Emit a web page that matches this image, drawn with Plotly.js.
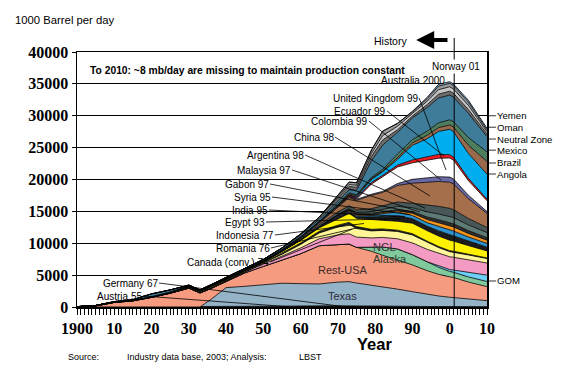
<!DOCTYPE html>
<html>
<head>
<meta charset="utf-8">
<script src="https://cdn.plot.ly/plotly-3.0.1.min.js"></script>
<style>html,body{margin:0;padding:0;background:#fff;}#chart{width:565px;height:382px;}</style>
</head>
<body>
<div id="chart"></div>
<script>
// ---------------- DATA (1000 barrel per day) ----------------
const years = [1900,1905,1910,1915,1920,1925,1930,1933,1936,1940,1945,1950,1955,1960,1965,1970,1973,1975,1979,1982,1986,1990,1994,1997,2000,2001,2005,2010];

const austria    = [0,0,0,0,0,0,0,0,10,20,20,40,70,50,55,55,50,40,35,25,20,20,20,20,20,20,15,10];
const germany    = [10,15,15,15,10,10,5,5,10,20,20,30,60,110,160,150,130,120,100,90,80,80,60,60,60,60,50,40];
const texas      = [0,0,0,0,0,0,0,0,1200,3000,3200,3400,3600,3500,3400,3700,3800,3600,3300,3000,2700,2300,1900,1650,1450,1400,1150,950];
const restUSA    = [0,150,700,950,1500,2150,2950,2200,1700,1000,2100,2900,3600,4700,6000,5900,5900,5600,5300,5000,4600,4200,3700,3400,3200,3150,2700,2200];
const alaska     = [0,0,0,0,0,0,0,0,0,0,0,0,0,0,0,0,0,0,700,1300,1700,1600,1400,1100,850,820,800,800];
const gom        = [0,0,0,0,0,0,0,0,0,0,0,0,0,0,0,0,0,0,0,0,0,0,0,200,300,350,700,1000];
const ngl        = [0,0,0,0,0,0,0,0,0,0,150,350,600,900,1100,1500,1600,1600,1400,1500,1600,1850,1950,2000,2000,2000,1950,1900];
const canada     = [10,10,10,10,10,10,20,20,20,20,20,100,350,550,900,1250,1500,1350,1100,1100,1150,1250,1100,900,800,800,800,700];
const romania    = [30,40,30,30,20,40,110,140,170,120,100,100,210,230,260,280,290,300,250,230,200,200,180,160,150,150,120,100];
const indonesia  = [5,20,30,30,40,60,110,110,130,170,30,130,230,400,550,1000,1400,1300,1500,1350,1400,1650,1650,1650,1650,1600,1350,1100];
const egypt      = [0,0,0,10,20,20,30,30,30,20,30,50,40,60,120,330,250,240,450,650,850,700,700,800,850,830,700,580];
const india      = [0,0,0,0,0,0,0,0,0,0,0,0,0,10,60,140,150,170,200,400,600,500,550,700,750,740,650,600];
const syria      = [0,0,0,0,0,0,0,0,0,0,0,0,0,0,0,80,110,180,150,160,200,350,500,600,650,640,550,500];
const gabon      = [0,0,0,0,0,0,0,0,0,0,0,0,0,20,30,110,150,220,200,160,170,270,400,450,500,490,450,400];
const malaysia   = [0,0,0,0,0,0,0,0,0,0,0,0,0,0,0,20,90,100,250,320,500,600,800,900,1000,990,900,800];
const argentina  = [0,0,5,10,30,50,60,70,80,80,80,70,90,180,280,400,450,400,500,600,700,700,1150,1200,1250,1230,1000,800];
const china      = [0,0,0,0,0,0,0,0,0,0,0,0,20,100,230,750,1300,1500,2100,2100,2600,3150,3500,3900,4100,4050,3100,2200];
const colombia   = [0,0,0,0,0,20,40,30,50,70,60,90,110,150,200,220,190,160,150,150,300,600,700,750,800,780,550,300];
const uk         = [0,0,0,0,0,0,0,0,0,0,0,0,0,0,0,0,0,50,1600,2300,2600,2600,2800,2900,3000,2950,2300,1700];
const ecuador    = [0,0,0,0,0,0,0,0,0,0,0,0,0,0,0,0,200,160,250,210,290,450,550,600,500,480,350,250];
const norway     = [0,0,0,0,0,0,0,0,0,0,0,0,0,0,0,0,30,190,450,550,900,2300,2800,3600,4000,4000,3900,3900];
const angola     = [0,0,0,0,0,0,0,0,0,0,0,0,0,0,0,100,160,160,150,130,280,360,550,600,670,700,1300,2000];
const brazil     = [0,0,0,0,0,0,0,0,0,0,0,0,10,80,90,160,170,170,200,260,570,530,650,750,800,850,1200,1500];
const mexico     = [0,0,60,100,430,320,110,90,110,120,120,200,250,270,320,430,450,700,2600,3800,3400,3400,3700,3900,3900,3850,3800,2400];
const neutralZone= [0,0,0,0,0,0,0,0,0,0,0,0,30,140,360,500,550,450,700,800,400,300,450,600,600,600,600,400];
const oman       = [0,0,0,0,0,0,0,0,0,0,0,0,0,0,0,330,290,340,450,700,550,400,550,700,700,680,650,350];
const australia  = [0,0,0,0,0,0,0,0,0,0,0,0,0,0,0,180,380,400,550,700,450,250,400,550,550,530,500,300];
const yemen      = [0,0,0,0,0,0,0,0,0,0,0,0,0,0,0,0,0,0,0,0,0,100,200,300,250,250,300,250];

const xTickVals = [1900,1910,1920,1930,1940,1950,1960,1970,1980,1990,2000,2010];
const xTickText = ['1900','10','20','30','40','50','60','70','80','90','0','10'];

// ---------------- STYLE ----------------
const series = [
  ['Austria', austria, '#2b2b2b'], ['Germany', germany, '#1a1a1a'],
  ['Texas', texas, '#95b3c7'], ['Rest-USA', restUSA, '#f59b7f'],
  ['Alaska', alaska, '#7fc99c'], ['GOM', gom, '#6dcff6'],
  ['NGL', ngl, '#f39bc3'], ['Canada (conv.)', canada, '#fff69a'],
  ['Romania', romania, '#222222'], ['Indonesia', indonesia, '#fff200'],
  ['Egypt', egypt, '#1c1c1c'], ['India', india, '#2d93cf'],
  ['Syria', syria, '#f7941d'], ['Gabon', gabon, '#303030'],
  ['Malaysia', malaysia, '#5e7a74'], ['Argentina', argentina, '#485757'],
  ['China', china, '#a46f4a'], ['Colombia', colombia, '#6a68a6'],
  ['United Kingdom', uk, '#ffffff'], ['Ecuador', ecuador, '#ed1c24'],
  ['Norway', norway, '#00aeef'], ['Angola', angola, '#9a6a4d'],
  ['Brazil', brazil, '#4d7e5e'], ['Mexico', mexico, '#3f7c9a'],
  ['Neutral Zone', neutralZone, '#6e6e6e'], ['Oman', oman, '#c6c6c6'],
  ['Australia', australia, '#999999'], ['Yemen', yemen, '#86acd1']
];

const traces = series.map(s => ({
  x: years, y: s[1], name: s[0], type: 'scatter', mode: 'lines',
  stackgroup: 'one', line: {color: '#000', width: 0.8, shape: 'linear'},
  fillcolor: s[2], hoverinfo: 'skip', showlegend: false
}));

const sans = 'Liberation Sans, Arial, sans-serif';
const serif = 'Liberation Serif, Times New Roman, serif';
const LBL = 10;

function leftLabel(text, tx, ty, hx, hy) {
  return {text: text, x: hx, y: hy, ax: tx, ay: ty, axref: 'x', ayref: 'y', xref: 'x', yref: 'y',
    showarrow: true, arrowhead: 0, arrowwidth: 0.8, arrowcolor: '#000', xanchor: 'right', yanchor: 'middle',
    font: {family: sans, size: LBL, color: '#000'}, borderpad: 0, standoff: 0, startstandoff: 0};
}
function rightLabel(text, y) {
  return {text: text, x: 2010, y: y, xref: 'x', yref: 'y', ax: 9, ay: 0, showarrow: true, arrowhead: 0,
    arrowwidth: 0.8, arrowcolor: '#000', xanchor: 'left', yanchor: 'middle',
    font: {family: sans, size: 9.6, color: '#000'}, borderpad: 0};
}
function plainLabel(text, x, y, opts) {
  return Object.assign({text: text, x: x, y: y, xref: 'x', yref: 'y', showarrow: false,
    xanchor: 'center', yanchor: 'middle', font: {family: sans, size: LBL, color: '#000'}}, opts || {});
}
function paperText(text, x, y, xanchor, font) {
  return {text: text, xref: 'paper', yref: 'paper', x: x, y: y, xanchor: xanchor, yanchor: 'middle',
    showarrow: false, font: font};
}

const annotations = [
  paperText('1000 Barrel per day', -0.156, 1.125, 'left', {family: sans, size: 11.3, color: '#000'}),
  plainLabel('<b>To 2010: ~8 mb/day are missing to maintain production constant</b>', 1903.0, 37176,
    {xanchor: 'left', font: {family: sans, size: 10.3, color: '#000'}}),
  plainLabel('Norway 01', 2001.7, 37804, {bgcolor: '#fff', borderpad: 1}),
  plainLabel('Australia 2000', 1990.1, 35608),
  {text: 'History', xref: 'x', yref: 'paper', x: 1984.0, y: 1.043, xanchor: 'center', yanchor: 'middle',
   showarrow: false, font: {family: sans, size: 10.5, color: '#000'}},
  {text: '', xref: 'x', yref: 'paper', x: 1991.0, y: 1.047, axref: 'x', ayref: 'paper', ax: 1999.8, ay: 1.047,
   showarrow: true, arrowhead: 2, arrowsize: 0.9, arrowwidth: 4, arrowcolor: '#000'},
  paperText('<b>Year</b>', 0.725, -0.147, 'center', {family: sans, size: 16.5, color: '#000'}),
  paperText('Source:', -0.027, -0.196, 'left', {family: sans, size: 9, color: '#000'}),
  paperText('Industry data base, 2003; Analysis:', 0.117, -0.196, 'left', {family: sans, size: 9, color: '#000'}),
  paperText('LBST', 0.537, -0.196, 'left', {family: sans, size: 9, color: '#000'}),
  // inner region labels
  plainLabel('NGL', 1982.4, 9412, {font: {family: sans, size: 11, color: '#3b2b33'}}),
  plainLabel('Alaska', 1984.0, 7529, {font: {family: sans, size: 11, color: '#2b3b33'}}),
  plainLabel('Rest-USA', 1971.4, 5804, {font: {family: sans, size: 11, color: '#3b2b2b'}}),
  plainLabel('Texas', 1971.1, 1725, {font: {family: sans, size: 11, color: '#2b2b3b'}}),
  // left labels with leader lines
  leftLabel('United Kingdom 99', 1991.8, 32784, 1999.0, 21490),
  leftLabel('Ecuador 99', 1983.2, 30745, 1998.5, 23686),
  leftLabel('Colombia 99', 1978.3, 29176, 1997.7, 19921),
  leftLabel('China 98', 1969.2, 26666, 1994.7, 17411),
  leftLabel('Argentina 98', 1961.2, 23843, 1993.4, 15500),
  leftLabel('Malaysia 97', 1957.7, 21490, 1992.0, 14900),
  leftLabel('Gabon 97', 1951.8, 19294, 1990.7, 14830),
  leftLabel('Syria 95', 1952.3, 17255, 1989.3, 14500),
  leftLabel('India 95', 1951.5, 15215, 1988.0, 14200),
  leftLabel('Egypt 93', 1950.7, 13333, 1986.7, 13850),
  leftLabel('Indonesia 77', 1953.1, 11294, 1977.0, 13100),
  leftLabel('Romania 76', 1952.0, 9255, 1975.4, 12450),
  leftLabel('Canada (conv.) 74', 1951.8, 7059, 1973.8, 12200),
  leftLabel('Germany 67', 1922.0, 3765, 1970.6, 130),
  leftLabel('Austria 55', 1917.7, 1725, 1957.1, 30),
  // right labels
  rightLabel('Yemen', 30000), rightLabel('Oman', 28200), rightLabel('Neutral Zone', 26350),
  rightLabel('Mexico', 24600), rightLabel('Brazil', 22590), rightLabel('Angola', 20860),
  rightLabel('GOM', 4080)
];

const layout = {
  width: 565, height: 382,
  margin: {l: 77, r: 78, t: 52, b: 75, pad: 0},
  paper_bgcolor: '#fff', plot_bgcolor: '#fff',
  showlegend: false,
  xaxis: {
    range: [1900, 2010], tickmode: 'array', tickvals: xTickVals, ticktext: xTickText,
    ticks: 'outside', ticklen: 6, tickwidth: 1, tickcolor: '#000',
    minor: {dtick: 1, tick0: 1900, ticks: 'outside', ticklen: 6, tickwidth: 1, tickcolor: '#000', showgrid: false},
    showline: true, linecolor: '#000', linewidth: 1.5, mirror: true, showgrid: false, zeroline: false,
    tickfont: {family: serif, size: 16, color: '#000', weight: 'bold'}, fixedrange: true
  },
  yaxis: {
    range: [0, 40000], dtick: 5000, tick0: 0, tickformat: 'd',
    ticks: 'outside', ticklen: 4, tickcolor: '#000',
    showgrid: true, gridcolor: '#000', gridwidth: 1,
    showline: true, linecolor: '#000', linewidth: 1.5, mirror: true, zeroline: false,
    tickfont: {family: serif, size: 16, color: '#000', weight: 'bold'}, fixedrange: true
  },
  shapes: [
    {type: 'line', xref: 'x', yref: 'paper', x0: 2001.2, x1: 2001.2, y0: 0, y1: 1.055, line: {color: '#000', width: 1}}
  ],
  annotations: annotations
};

Plotly.newPlot('chart', traces, layout, {staticPlot: true, displayModeBar: false});
</script>
</body>
</html>
